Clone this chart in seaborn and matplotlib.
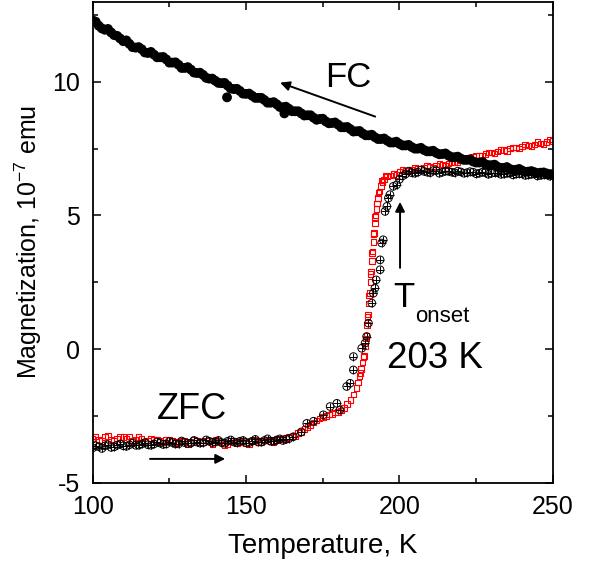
import numpy as np
import matplotlib
matplotlib.use("Agg")
import matplotlib.pyplot as plt
import seaborn as sns

# FC curve (filled black circles), cooling in field
fc_temp = [100, 102, 104, 106, 108, 110, 112, 114, 116, 118, 120, 122, 124, 126, 128,
           130, 132, 134, 136, 138, 140, 142, 144, 146, 148, 150, 152, 154, 156, 158,
           160, 162, 164, 166, 168, 170, 172, 174, 176, 178, 180, 182, 184, 186, 188,
           190, 192, 194, 196, 198, 200, 202, 204, 206, 208, 210, 212, 214, 216, 218,
           220, 222, 224, 226, 228, 230, 232, 234, 236, 238, 240, 242, 244, 246, 248,
           250, 143.8, 162.5]
fc_mag = [12.30, 12.10, 11.95, 11.85, 11.72, 11.52, 11.42, 11.28, 11.22, 11.08, 11.02, 10.92,
          10.84, 10.72, 10.64, 10.52, 10.46, 10.33, 10.26, 10.12, 10.04, 9.95, 9.86, 9.73,
          9.66, 9.55, 9.48, 9.40, 9.32, 9.22, 9.16, 9.05, 8.99, 8.90, 8.82, 8.75, 8.66,
          8.61, 8.52, 8.46, 8.40, 8.30, 8.23, 8.15, 8.07, 8.00, 7.93, 7.86, 7.80, 7.73,
          7.68, 7.62, 7.56, 7.50, 7.45, 7.40, 7.34, 7.30, 7.24, 7.18, 7.13, 7.08, 7.02,
          6.98, 6.92, 6.88, 6.82, 6.78, 6.74, 6.71, 6.68, 6.64, 6.62, 6.60, 6.57, 6.55,
          9.42, 8.82]
fc_temp_odd = list(range(101, 250, 2))
fc_mag_odd = [12.25, 12.00, 11.98, 11.75, 11.62, 11.55, 11.30, 11.30, 11.10, 11.12,
              10.92, 10.93, 10.72, 10.73, 10.52, 10.55, 10.35, 10.34, 10.15, 10.12,
              9.96, 9.96, 9.75, 9.74, 9.56, 9.56, 9.40, 9.40, 9.22, 9.24,
              9.06, 9.07, 8.90, 8.90, 8.74, 8.75, 8.58, 8.62, 8.45, 8.48,
              8.30, 8.31, 8.14, 8.16, 8.00, 8.02, 7.86, 7.88, 7.73, 7.76,
              7.62, 7.64, 7.50, 7.53, 7.40, 7.42, 7.29, 7.32, 7.18, 7.20,
              7.08, 7.10, 6.98, 7.00, 6.88, 6.90, 6.78, 6.81, 6.70, 6.74,
              6.63, 6.66, 6.58, 6.61, 6.54]

# ZFC, first run (red open squares)
zfc_red_temp = [100, 102, 104, 106, 108, 110, 112, 114, 116, 118, 120, 122, 124, 126, 128,
                130, 132, 134, 136, 138, 140, 142, 144, 146, 148, 150, 152, 154, 156, 158,
                160, 162, 164, 165, 166, 167, 168, 169, 170, 171, 172, 173, 174, 175, 176,
                177, 178, 179, 180, 181, 182, 183, 184, 185, 186, 186.5, 187, 187.5, 188,
                188.5, 189, 189.25, 189.5, 189.75, 190, 190.25, 190.5, 190.75, 191, 191.25,
                191.5, 191.75, 192, 192.25, 192.5, 192.75, 193, 193.5, 194, 194.5, 195, 196,
                197, 198, 200, 202, 204, 206, 208, 210, 212, 214, 216, 218, 220, 222, 224,
                226, 228, 230, 232, 234, 236, 238, 240, 242, 244, 246, 248, 250]
zfc_red_mag = [-3.35, -3.40, -3.30, -3.38, -3.35, -3.30, -3.28, -3.40, -3.35, -3.42, -3.38,
               -3.45, -3.40, -3.42, -3.48, -3.45, -3.50, -3.42, -3.48, -3.45, -3.40, -3.50,
               -3.55, -3.45, -3.48, -3.52, -3.45, -3.48, -3.42, -3.45, -3.40, -3.38, -3.30,
               -3.28, -3.25, -3.15, -3.10, -3.00, -2.92, -2.85, -2.75, -2.68, -2.60, -2.55,
               -2.50, -2.45, -2.42, -2.38, -2.35, -2.30, -2.20, -2.05, -1.90, -1.70, -1.45,
               -1.25, -1.00, -0.75, -0.50, -0.25, 0.10, 0.50, 0.90, 1.30, 1.70, 2.10, 2.50,
               2.90, 3.30, 3.65, 4.00, 4.35, 4.70, 5.00, 5.25, 5.45, 5.65, 5.90, 6.10, 6.25,
               6.35, 6.45, 6.50, 6.55, 6.62, 6.68, 6.72, 6.75, 6.78, 6.82, 6.86, 6.90, 6.95,
               7.00, 7.05, 7.12, 7.20, 7.25, 7.30, 7.35, 7.40, 7.45, 7.50, 7.55, 7.58, 7.62,
               7.66, 7.70, 7.74, 7.78]
zfc_red_temp_b = (list(range(101, 164, 2))
                  + [187.25, 188.25, 189.1, 189.6, 190.1, 190.6, 191.1, 191.6, 192.1,
                     192.6, 193.2, 194.2, 195.5]
                  + list(range(199, 250, 2)))
zfc_red_mag_b = [-3.28, -3.45, -3.25, -3.42, -3.30, -3.36, -3.45, -3.30, -3.48, -3.35,
                 -3.40, -3.50, -3.38, -3.52, -3.42, -3.55, -3.40, -3.50, -3.42, -3.55,
                 -3.45, -3.58, -3.42, -3.52, -3.45, -3.55, -3.40, -3.50, -3.38, -3.48,
                 -3.35, -3.32,
                 -0.90, -0.30, 0.40, 1.20, 2.00, 2.80, 3.60, 4.30, 4.95, 5.45, 5.85, 6.30,
                 6.50,
                 6.52, 6.70, 6.68, 6.80, 6.74, 6.86, 6.80, 6.92, 6.87, 7.00, 6.98, 7.10,
                 7.08, 7.25, 7.22, 7.35, 7.32, 7.45, 7.42, 7.55, 7.50, 7.65, 7.60, 7.75,
                 7.68, 7.85]

# ZFC, second run (black circled-plus)
zfc_blk_temp = [100, 102, 104, 106, 108, 110, 112, 114, 116, 118, 120, 122, 124, 126, 128,
                130, 132, 134, 136, 138, 140, 142, 144, 146, 148, 150, 152, 154, 156, 158,
                160, 162, 164, 165.4, 168, 169.8, 172, 175.2, 177.4, 179.6, 180.6, 182.8,
                183.9, 185.0, 185.0, 187.7, 188.8, 189.3, 189.9, 191.0, 191.5, 192.0, 192.4,
                193.7, 193.7, 194.2, 194.7, 195.3, 195.9, 196.4, 196.9, 198.0, 199.1, 200,
                202, 204, 206, 208, 210, 212, 214, 216, 218, 220, 222, 224, 226, 228, 230,
                232, 234, 236, 238, 240, 242, 244, 246, 248, 250]
zfc_blk_mag = [-3.70, -3.65, -3.62, -3.68, -3.60, -3.62, -3.58, -3.60, -3.55, -3.58, -3.55,
               -3.52, -3.55, -3.50, -3.55, -3.50, -3.52, -3.48, -3.50, -3.45, -3.48, -3.50,
               -3.45, -3.48, -3.45, -3.50, -3.45, -3.48, -3.42, -3.45, -3.40, -3.42, -3.35,
               -3.28, -3.10, -2.78, -2.70, -2.46, -2.15, -2.03, -2.28, -1.40, -1.28, -0.78,
               -0.28, 0.03, 0.22, 0.47, 0.97, 1.72, 2.09, 2.28, 2.59, 2.97, 3.34, 3.97, 4.09,
               5.15, 5.34, 5.65, 5.78, 6.09, 6.15, 6.35, 6.55, 6.60, 6.62, 6.65, 6.60, 6.68,
               6.62, 6.65, 6.60, 6.63, 6.60, 6.62, 6.58, 6.60, 6.58, 6.60, 6.55, 6.58, 6.55,
               6.56, 6.52, 6.55, 6.50, 6.52, 6.50]
zfc_blk_temp_b = list(range(101, 164, 2)) + list(range(201, 250, 2))
zfc_blk_mag_b = [-3.62, -3.72, -3.58, -3.66, -3.55, -3.64, -3.52, -3.60, -3.50, -3.60,
                 -3.48, -3.57, -3.46, -3.55, -3.44, -3.53, -3.42, -3.52, -3.40, -3.50,
                 -3.42, -3.52, -3.40, -3.50, -3.42, -3.50, -3.38, -3.48, -3.36, -3.45,
                 -3.36, -3.38,
                 6.48, 6.66, 6.58, 6.70, 6.62, 6.68, 6.58, 6.66, 6.62, 6.66, 6.58, 6.64,
                 6.56, 6.62, 6.54, 6.60, 6.54, 6.58, 6.52, 6.56, 6.50, 6.54, 6.48, 6.52,
                 6.47]

sns.set_style("ticks")
plt.rcParams["font.family"] = ["Liberation Sans", "DejaVu Sans"]
plt.rcParams["mathtext.default"] = "regular"
plt.rcParams["axes.unicode_minus"] = False
for key in ["text.color", "axes.labelcolor", "xtick.color", "ytick.color", "axes.edgecolor"]:
    plt.rcParams[key] = "black"

fig = plt.figure(figsize=(5.9, 5.8), dpi=100)
ax = fig.add_axes([0.157, 0.1678, 0.78, 0.8293])

red_t = zfc_red_temp + zfc_red_temp_b
red_m = zfc_red_mag + zfc_red_mag_b
blk_t = zfc_blk_temp + zfc_blk_temp_b
blk_m = zfc_blk_mag + zfc_blk_mag_b

sns.scatterplot(x=red_t, y=red_m, ax=ax, marker="s", s=16,
                facecolor="none", edgecolor="#ff0000", linewidth=0.8, zorder=2)
sns.scatterplot(x=blk_t, y=blk_m, ax=ax, marker="o", s=30,
                facecolor="none", edgecolor="black", linewidth=0.7, zorder=3)
sns.scatterplot(x=blk_t, y=blk_m, ax=ax, marker="+", s=30,
                color="black", linewidth=0.7, zorder=3)
sns.scatterplot(x=fc_temp + fc_temp_odd, y=fc_mag + fc_mag_odd, ax=ax, marker="o", s=50,
                color="black", edgecolor="none", linewidth=0, zorder=4)

ax.set_xlim(100, 250)
ax.set_ylim(-5, 13)
ax.set_xticks([100, 150, 200, 250])
ax.set_xticks([125, 175, 225], minor=True)
ax.set_yticks([-5, 0, 5, 10])
ax.set_yticks([-2.5, 2.5, 7.5, 12.5], minor=True)
ax.tick_params(which="both", direction="in", top=True, right=True, width=1.1,
               labelsize=18, pad=9)
ax.tick_params(which="major", length=6)
ax.tick_params(which="minor", length=3.5)
for sp in ax.spines.values():
    sp.set_linewidth(1.3)
    sp.set_visible(True)

ax.set_xlabel("Temperature, K", fontsize=20, labelpad=10)
ax.set_ylabel(r"Magnetization, 10$^{\mathregular{-7}}$ emu", fontsize=18, labelpad=6)

# annotations
ax.text(175.7, 9.82, "FC", fontsize=25, ha="left", va="baseline")
ax.text(121.0, -2.61, "ZFC", fontsize=26, ha="left", va="baseline")
ax.text(197.9, 1.58, "T", fontsize=25, ha="left", va="baseline")
ax.text(205.1, 1.02, "onset", fontsize=16, ha="left", va="baseline")
ax.text(196.0, -0.70, "203 K", fontsize=26.5, ha="left", va="baseline")

arrow = dict(arrowstyle="-|>", color="black", lw=1.4, mutation_scale=14,
             shrinkA=0, shrinkB=0)
ax.annotate("", xy=(161.1, 9.97), xytext=(192.1, 8.70), arrowprops=arrow)
ax.annotate("", xy=(143.2, -4.11), xytext=(118.7, -4.11), arrowprops=arrow)
ax.annotate("", xy=(200.2, 5.51), xytext=(200.2, 3.04), arrowprops=arrow)

plt.savefig("out.png", dpi=100)
plt.close()
